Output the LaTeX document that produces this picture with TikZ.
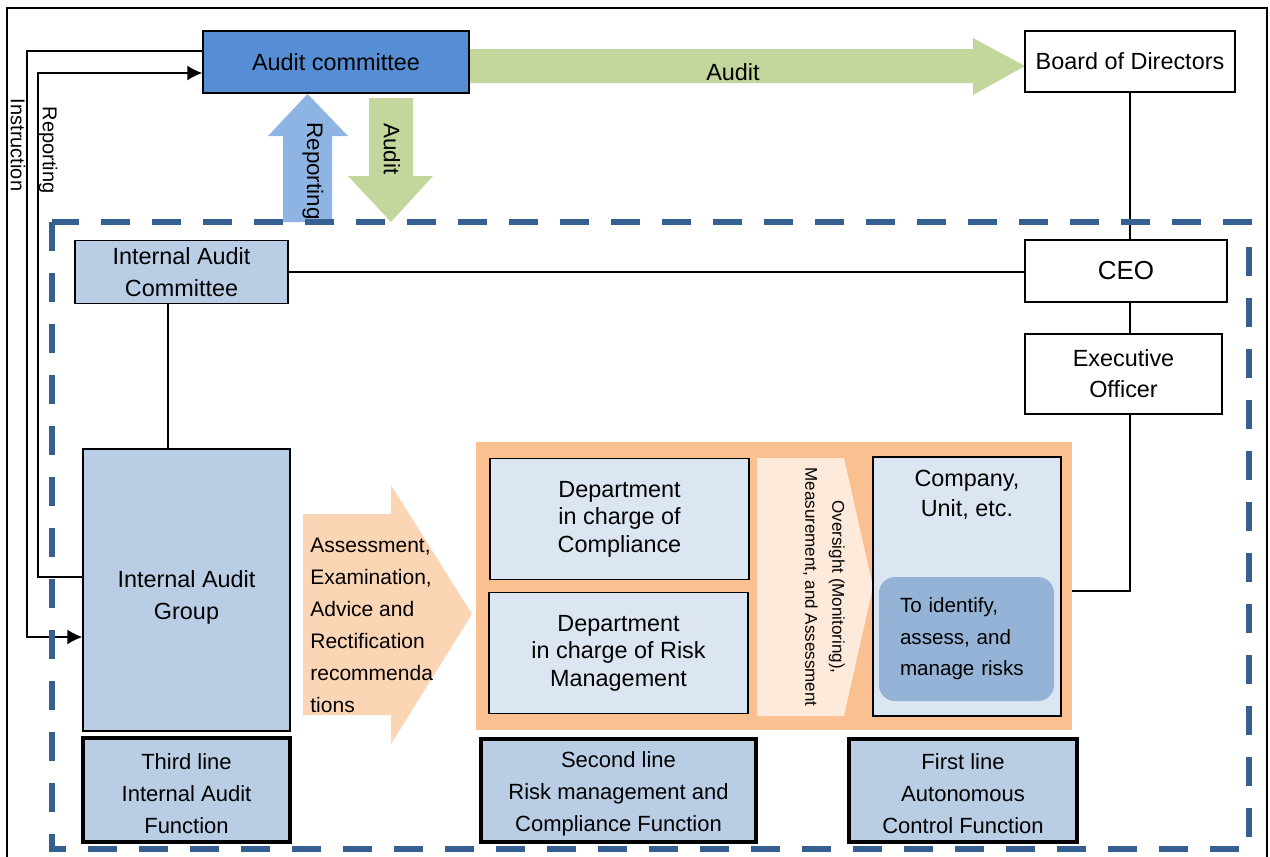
\documentclass[tikz,border=0pt]{standalone}
\usepackage{fontspec}
\setmainfont{Liberation Sans}
\usetikzlibrary{shapes,arrows,arrows.meta}
\definecolor{committeeblue}{RGB}{85,142,213}
\definecolor{groupblue}{RGB}{185,205,229}
\definecolor{deptblue}{RGB}{220,230,242}
\definecolor{riskblue}{RGB}{149,179,215}
\definecolor{reportblue}{RGB}{141,180,226}
\definecolor{auditgreen}{RGB}{195,214,155}
\definecolor{areaorange}{RGB}{250,192,144}
\definecolor{advicepeach}{RGB}{252,213,181}
\definecolor{oversightpeach}{RGB}{253,234,218}
\definecolor{frameblue}{RGB}{55,96,146}
\tikzstyle{block} = [rectangle, draw, line width=0.7pt, align=center,
inner sep=0pt, font=\fontsize{11.7}{16}\selectfont]
\tikzstyle{dept} = [block, fill=deptblue, font=\fontsize{11.7}{13.8}\selectfont]
\tikzstyle{lineblock} = [block, fill=groupblue, line width=1.6pt, font=\fontsize{11}{16}\selectfont]
\tikzstyle{tag} = [font=\fontsize{10}{12}\selectfont, rotate=-90, inner sep=0pt]
\tikzstyle{line} = [draw, line width=0.8pt, -{Latex[length=7.5pt,width=7.5pt]}]
\tikzstyle{link} = [draw, line width=0.7pt]

\begin{document}
\begin{tikzpicture}[x=0.5pt, y=-0.5pt]
	\useasboundingbox (0,0) rectangle (1270,857);
	\draw[line width=0.8pt] (7,857) -- (7,8) -- (1267,8) -- (1267,857);
	
	% Block arrows
	\fill[auditgreen] (469,49) -- (973,49) -- (973,38) -- (1025,66) -- (973,95) -- (973,83) -- (469,83) -- cycle;
	\fill[reportblue] (283,222) -- (283,136) -- (268,136) -- (307.5,94) -- (348,136) -- (332,136) -- (332,222) -- cycle;
	\fill[auditgreen] (369,98) -- (413,98) -- (413,176) -- (433,176) -- (391,222) -- (348,176) -- (369,176) -- cycle;
	\fill[advicepeach] (303,514) -- (391,514) -- (391,485) -- (472,614) -- (391,744) -- (391,715) -- (303,715) -- cycle;
	
	% Place nodes
	\node [block, fill=committeeblue, minimum width=133pt, minimum height=31pt] (auditc) at (336,62) {Audit committee};
	\node [block, fill=white, minimum width=105pt, minimum height=30.5pt] (board) at (1130,61.5) {Board of Directors};
	\node [block, fill=groupblue, minimum width=106.5pt, minimum height=31.5pt] (iac) at (181.5,272) {Internal Audit\\Committee};
	\node [block, fill=white, minimum width=101pt, minimum height=31pt, font=\fontsize{13}{16}\selectfont] (ceo) at (1126,271) {CEO};
	\node [block, fill=white, minimum width=98.5pt, minimum height=40pt, font=\fontsize{11.7}{15.5}\selectfont] (exec) at (1123.5,374) {Executive\\Officer};
	\node [block, fill=groupblue, minimum width=103.5pt, minimum height=141pt] (iag) at (186.5,590) {};
	\node [font=\fontsize{11.7}{16}\selectfont, align=center, inner sep=0pt] (iagtxt) at (186.5,597) {Internal Audit\\Group};
	
	% Place nodes
	\node [fill=areaorange, inner sep=0pt, minimum width=298pt, minimum height=144pt] (area) at (774,586) {};
	\fill[oversightpeach] (757,458) -- (844,458) -- (873,587) -- (844,716) -- (757,716) -- cycle;
	\node [dept, minimum width=129.5pt, minimum height=60.5pt] (deptc) at (619.5,519) {Department\\in charge of\\Compliance};
	\node [dept, minimum width=129.5pt, minimum height=60.5pt] (deptr) at (618.5,653) {Department\\in charge of Risk\\Management};
	\node [dept, minimum width=94pt, minimum height=129.5pt] (company) at (967,586.5) {};
	\node [font=\fontsize{11.7}{15}\selectfont, align=center, inner sep=0pt] (companytxt) at (967,495) {Company,\\Unit, etc.};
	\node [fill=riskblue, rounded corners=8pt, minimum width=87.5pt, minimum height=62pt, text width=66.5pt,
	inner xsep=10.5pt, align=left, font=\fontsize{10.3}{15.75}\selectfont] (risks) at (966.5,639) {To identify,\\assess, and\\manage risks};
	
	% Place nodes
	\node [lineblock, minimum width=103.5pt, minimum height=52pt] (third) at (186.5,790) {};
	\node [lineblock, minimum width=137.5pt, minimum height=51.5pt] (second) at (618.5,790.5) {};
	\node [lineblock, minimum width=114pt, minimum height=51.5pt] (first) at (963,790.5) {};
	\node [font=\fontsize{11}{16}\selectfont, align=center, inner sep=0pt] (thirdtxt) at (186.5,794) {Third line\\Internal Audit\\Function};
	\node [font=\fontsize{11}{16}\selectfont, align=center, inner sep=0pt] (secondtxt) at (618.5,794) {Second line\\Risk management and\\Compliance Function};
	\node [font=\fontsize{11}{16}\selectfont, align=center, inner sep=0pt] (firsttxt) at (963,794) {First line\\Autonomous\\Control Function};
	
	% Connectors
	\coordinate (instrx) at (27,400);
	\coordinate (reportx) at (38,400);
	\path [line] ([yshift=5.5pt]auditc.west) -| (instrx) |- ([yshift=-23.5pt]iag.west);
	\path [line] ([yshift=6.5pt]iag.west) -| (reportx) |- ([yshift=-5.5pt]auditc.west);
	\path [link] (board.south) -- (board.south |- ceo.north);
	\path [link] (board.south |- ceo.south) -- (board.south |- exec.north);
	\path [link] (board.south |- exec.south) |- ([yshift=-2.5pt]area.east);
	\path [link] (iac.east) -- (iac.east -| ceo.west);
	\path [link] ([xshift=-6.75pt]iac.south) -- ([xshift=-6.75pt]iac.south |- iag.north);
	
	% Labels
	\node [font=\fontsize{11.7}{14}\selectfont] (auditr) at (733,72) {Audit};
	\node [tag, font=\fontsize{11.2}{14}\selectfont] (reportup) at (313,171) {Reporting};
	\node [tag, font=\fontsize{11.2}{14}\selectfont] (auditdown) at (392,149) {Audit};
	\node [tag] (instr) at (18,145) {Instruction};
	\node [tag] (report) at (48,150) {Reporting};
	\node [anchor=west, align=left, inner sep=0pt, font=\fontsize{10.5}{16}\selectfont] (advice) at (310,625)
	{Assessment,\\Examination,\\Advice and\\Rectification\\recommenda\\tions};
	\node [tag, align=center, font=\fontsize{8.5}{13.5}\selectfont] (oversight) at (824,587)
	{Oversight (Monitoring),\\Measurement, and Assessment};
	
	% Dashed frame
	\draw[frameblue, line width=3pt, dash pattern=on 14.5pt off 11pt] (52,222) rectangle (1249,849);
\end{tikzpicture}
\end{document}
